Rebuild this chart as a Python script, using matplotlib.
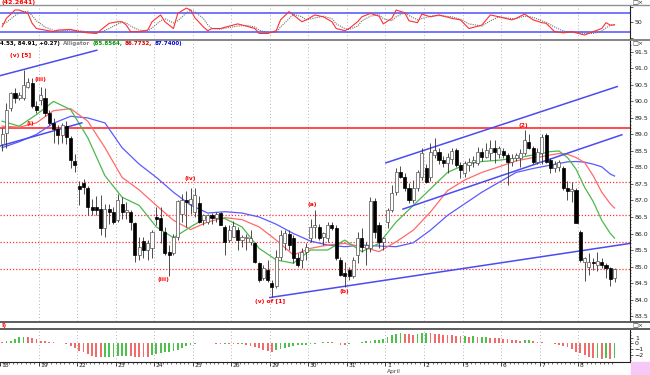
import matplotlib
matplotlib.use("Agg")
import matplotlib.pyplot as plt
import numpy as np
from matplotlib.lines import Line2D
from matplotlib.patches import Rectangle
from matplotlib.transforms import ScaledTranslation

plt.rcParams['font.family'] = ['Liberation Sans Narrow', 'DejaVu Sans']

# ---- price bars (9 bars per trading day) ----
opens = [88.70, 89.05, 89.80, 90.25, 90.10, 90.10, 90.45, 90.55, 89.85,
         90.05, 90.10, 89.65, 89.35, 89.15, 88.98, 89.27, 88.90, 88.20,
         87.45, 87.52, 87.37, 86.80, 86.81, 86.74, 86.16, 86.74, 86.66,
         86.40, 86.90, 86.66, 86.66, 86.31, 85.35, 85.77, 85.50, 85.55,
         86.50, 86.46, 86.05, 85.45, 85.40, 85.90, 86.60, 87.00, 86.90,
         86.66, 86.91, 86.40, 86.36, 86.56, 86.46, 86.61, 86.20, 85.80,
         85.88, 86.11, 85.80, 85.85, 85.75, 85.70, 85.10, 84.64, 84.89,
         84.49, 84.40, 85.30, 85.70, 86.00, 85.85, 85.25, 85.20, 85.45,
         85.85, 86.20, 86.20, 85.90, 85.85, 86.26, 86.16, 85.20, 84.80,
         84.90, 84.70, 85.35, 85.87, 85.55, 85.55, 86.97, 86.26, 85.75,
         86.36, 86.71, 87.27, 87.87, 87.72, 87.37, 87.02, 87.37, 87.70,
         87.97, 87.72, 88.38, 88.48, 88.23, 88.13, 88.25, 88.53, 88.07,
         87.82, 88.08, 88.18, 88.13, 88.48, 88.33, 88.43, 88.60, 88.40,
         88.50, 88.38, 88.18, 88.30, 88.30, 88.43, 88.78, 88.58, 88.18,
         88.43, 88.98, 88.23, 87.97, 88.00, 87.97, 87.37, 87.30, 87.32,
         86.05, 85.13, 85.00, 85.15, 85.05, 85.15, 85.05, 84.95, 84.64]
highs = [89.20, 89.95, 90.30, 90.40, 90.30, 90.96, 90.70, 90.70, 90.00,
         90.45, 90.40, 89.75, 89.50, 89.30, 89.35, 89.40, 88.95, 88.40,
         87.60, 87.65, 87.45, 87.05, 87.15, 87.17, 86.90, 86.90, 86.80,
         87.20, 87.10, 86.95, 86.70, 86.36, 85.90, 85.90, 85.80, 86.10,
         86.80, 86.80, 86.20, 85.65, 86.00, 87.02, 87.20, 87.30, 87.37,
         87.37, 87.15, 86.60, 86.60, 86.63, 86.66, 86.66, 86.26, 86.26,
         86.38, 86.21, 85.95, 86.00, 86.10, 85.75, 85.15, 85.04, 85.20,
         84.59, 85.50, 86.10, 86.10, 86.10, 85.95, 85.40, 85.55, 85.70,
         86.45, 86.71, 86.30, 86.05, 86.36, 86.36, 86.26, 85.30, 85.15,
         85.00, 85.30, 86.06, 86.16, 85.75, 87.12, 87.07, 86.36, 85.90,
         86.76, 87.47, 87.98, 88.03, 87.83, 87.52, 87.62, 87.93, 88.58,
         88.10, 88.73, 88.88, 88.60, 88.35, 88.43, 88.60, 88.58, 88.17,
         88.20, 88.30, 88.35, 88.63, 88.60, 88.75, 88.84, 88.84, 88.65,
         88.60, 88.45, 88.40, 88.45, 88.55, 89.14, 89.00, 88.65, 88.60,
         89.00, 89.03, 88.28, 88.20, 88.23, 88.05, 87.60, 87.55, 87.37,
         86.10, 85.30, 85.40, 85.25, 85.45, 85.25, 85.10, 85.00, 84.95]
lows = [88.50, 88.60, 89.70, 89.95, 90.05, 90.05, 90.40, 89.80, 89.65,
        89.90, 89.55, 89.30, 88.75, 88.70, 88.75, 88.70, 87.98, 87.87,
        86.86, 87.20, 86.56, 86.56, 86.56, 85.96, 85.90, 86.30, 86.30,
        86.35, 86.45, 86.45, 86.10, 85.15, 85.20, 85.25, 85.20, 85.25,
        86.25, 85.70, 85.35, 84.72, 85.35, 85.80, 86.36, 86.20, 86.60,
        86.50, 86.31, 86.25, 86.30, 86.30, 86.35, 86.26, 85.35, 85.75,
        85.88, 85.50, 85.60, 85.50, 85.65, 85.10, 84.54, 84.59, 84.54,
        84.08, 84.35, 85.20, 85.50, 85.50, 85.10, 85.00, 84.95, 85.20,
        85.75, 85.85, 85.80, 85.65, 85.75, 86.10, 85.20, 84.70, 84.39,
        84.60, 84.65, 85.10, 85.45, 85.05, 85.45, 85.85, 85.55, 85.50,
        86.16, 86.66, 87.17, 87.68, 87.30, 86.91, 86.91, 87.30, 87.62,
        87.52, 87.60, 88.30, 88.10, 88.00, 87.82, 88.10, 88.02, 87.67,
        87.72, 87.90, 88.00, 88.08, 88.20, 88.28, 88.24, 88.13, 88.30,
        88.30, 87.47, 88.05, 88.20, 88.00, 88.38, 88.55, 88.10, 88.10,
        88.10, 88.13, 87.82, 87.85, 87.90, 87.32, 87.00, 86.96, 86.31,
        85.15, 84.55, 84.75, 84.90, 84.85, 84.95, 84.65, 84.42, 84.53]
closes = [89.00, 89.75, 90.25, 90.10, 90.20, 90.50, 90.60, 89.85, 89.75,
          90.20, 89.65, 89.35, 89.15, 88.98, 89.30, 88.93, 88.23, 88.08,
          87.35, 87.42, 86.81, 86.70, 86.71, 86.16, 86.74, 86.66, 86.36,
          87.00, 86.66, 86.70, 86.36, 85.35, 85.60, 85.50, 85.70, 86.06,
          86.43, 86.10, 85.40, 85.35, 85.90, 86.97, 87.00, 86.95, 87.05,
          87.17, 86.36, 86.55, 86.56, 86.46, 86.58, 86.26, 85.75, 86.11,
          86.23, 85.80, 85.90, 85.90, 85.85, 85.15, 84.60, 84.94, 84.59,
          84.37, 85.30, 85.95, 86.00, 85.65, 85.25, 85.05, 85.45, 85.60,
          86.20, 86.25, 85.85, 86.00, 86.26, 86.16, 85.25, 84.74, 84.70,
          84.70, 85.20, 85.85, 85.60, 85.65, 86.97, 86.06, 85.75, 85.85,
          86.71, 87.22, 87.87, 87.72, 87.37, 87.01, 87.37, 87.87, 88.43,
          87.57, 88.48, 88.53, 88.23, 88.13, 88.33, 88.50, 88.07, 87.92,
          88.12, 88.18, 88.24, 88.48, 88.33, 88.53, 88.60, 88.48, 88.60,
          88.38, 88.18, 88.30, 88.38, 88.43, 88.83, 88.58, 88.18, 88.48,
          88.93, 88.18, 87.97, 88.10, 88.18, 87.37, 87.30, 87.35, 86.31,
          85.20, 85.25, 85.15, 85.10, 85.18, 85.05, 84.95, 84.62, 84.91]

day_labels = ["18", "19", "22", "23", "24", "25", "26", "29", "30", "31",
              "1", "2", "5", "6", "7", "8"]
bars_per_day = 9

# ---- Alligator lines, read at sample bars ----
ma_bars = [0, 4, 8, 12, 16, 20, 24, 28, 32, 36, 40, 44, 48, 52, 56, 60, 64,
           68, 72, 76, 80, 84, 88, 92, 96, 100, 104, 108, 112, 116, 120, 124,
           126, 128, 130, 132, 134, 136, 138, 140, 142, 143]
lips = [89.40, 89.25, 89.60, 90.00, 89.75, 88.90, 87.75, 87.10, 86.85, 86.20,
        85.87, 86.20, 86.50, 86.45, 86.20, 85.55, 85.20, 85.10, 85.50, 85.50,
        85.80, 85.45, 85.70, 86.35, 86.85, 87.35, 87.85, 88.08, 88.18, 88.22,
        88.28, 88.38, 88.42, 88.48, 88.50, 88.30, 87.95, 87.40, 86.97, 86.40,
        86.00, 85.86]
teeth = [89.25, 89.22, 89.35, 89.72, 89.78, 89.40, 88.60, 87.70, 87.32, 86.85,
         86.40, 86.12, 86.35, 86.48, 86.42, 86.20, 85.80, 85.35, 85.55, 85.65,
         85.70, 85.60, 85.45, 85.75, 86.10, 86.65, 87.30, 87.62, 87.85, 88.02,
         88.20, 88.30, 88.33, 88.38, 88.42, 88.40, 88.30, 88.15, 87.75, 87.25,
         86.90, 86.77]
jaw = [88.60, 88.78, 89.00, 89.34, 89.55, 89.50, 89.35, 88.60, 88.10, 87.70,
       87.25, 86.86, 86.62, 86.66, 86.62, 86.50, 86.28, 86.00, 85.77, 85.65,
       85.60, 85.65, 85.62, 85.60, 85.72, 86.10, 86.55, 86.90, 87.25, 87.55,
       87.85, 87.97, 88.02, 88.07, 88.12, 88.17, 88.18, 88.16, 88.10, 88.02,
       87.80, 87.74]

# ---- stochastic (%K solid, %D dotted) ----
st_bars = [0, 1, 3, 4, 6, 7, 8, 10, 12, 13, 16, 18, 20, 22, 23, 25, 27, 28,
           29, 30, 32, 34, 35, 37, 38, 40, 41, 43, 44, 45, 47, 48, 49, 51, 52,
           55, 57, 59, 60, 62, 64, 65, 67, 68, 70, 71, 73, 75, 77, 78, 80, 81,
           83, 84, 86, 88, 89, 91, 92, 94, 95, 97, 98, 100, 102, 105, 107,
           109, 112, 114, 116, 119, 120, 122, 124, 126, 127, 129, 131, 133,
           136, 138, 140, 141, 142, 143]
st_k = [36, 63, 90, 90, 79, 47, 30, 25, 20, 25, 27, 20, 16, 14, 25, 47, 52,
        52, 41, 20, 20, 25, 52, 74, 52, 30, 79, 96, 90, 65, 35, 23, 30, 30,
        34, 45, 38, 30, 14, 14, 23, 58, 85, 74, 52, 58, 74, 68, 52, 30, 23,
        30, 52, 68, 79, 70, 45, 63, 90, 81, 55, 49, 77, 68, 74, 63, 58, 30,
        41, 74, 68, 58, 63, 77, 58, 49, 47, 20, 16, 20, 9, 20, 30, 49, 41, 42]
st_d = [45, 50, 72, 82, 86, 72, 55, 35, 24, 22, 25, 23, 19, 16, 18, 30, 45,
        50, 48, 38, 25, 22, 32, 55, 62, 48, 55, 80, 90, 84, 62, 42, 30, 28,
        31, 38, 40, 35, 25, 16, 18, 35, 62, 76, 68, 58, 64, 70, 62, 45, 30,
        27, 38, 55, 70, 75, 62, 55, 68, 82, 72, 58, 62, 70, 72, 68, 60, 45,
        38, 55, 68, 62, 62, 70, 66, 55, 50, 35, 22, 18, 14, 14, 22, 32, 40, 42]

# ---- oscillator histogram, one value per bar ----
ao = [0.30, 0.45, 0.50, 0.75, 1.10, 1.25, 1.10, 0.95, 0.75, 0.50, 0.40, 0.30,
      0.25, 0.10, 0.05, -0.05, -0.40, -0.90, -1.30, -1.60, -1.95, -2.25, -2.45,
      -2.52, -2.50, -2.45, -2.40, -2.32, -2.28, -2.25, -2.30, -2.38, -2.42,
      -2.46, -2.52, -2.10, -1.90, -1.75, -1.60, -1.50, -1.40, -1.20, -0.90,
      -0.45, -0.20, -0.05, 0.05, 0.03, 0.02, 0.00, -0.02, -0.03, -0.02, -0.04,
      -0.08, -0.15, -0.10, -0.30, -0.40, -0.55, -0.85, -1.20, -1.30, -1.50,
      -1.20, -1.05, -0.85, -0.55, -0.45, -0.30, -0.28, -0.20, -0.10, -0.02,
      0.15, 0.25, 0.30, 0.20, 0.00, -0.20, -0.30, -0.15, 0.05, 0.15, 0.25,
      0.40, 0.50, 0.60, 0.70, 0.90, 1.20, 1.50, 1.75, 1.85, 1.80, 1.65, 1.60,
      1.75, 1.85, 1.90, 1.85, 1.75, 1.65, 1.60, 1.55, 1.50, 1.40, 1.35, 1.38,
      1.25, 1.30, 1.20, 1.22, 1.25, 1.05, 1.00, 0.95, 0.80, 0.75, 0.65, 0.60,
      0.50, 0.55, 0.60, 0.40, 0.30, 0.20, 0.10, 0.00, -0.10, -0.30, -0.45,
      -0.70, -1.05, -1.50, -1.80, -2.10, -2.40, -2.70, -2.60, -2.85, -2.70,
      -2.75, -2.60]

# ---- drawn objects ----
trend_lines = [((-0.5, 90.78), (22.1, 91.55)),
               ((-0.5, 88.65), (18.6, 89.35)),
               ((62.5, 84.06), (146.6, 85.70)),
               ((89.6, 88.14), (143.6, 90.45)),
               ((93.6, 86.74), (144.7, 88.99))]
resistance = 89.19
levels = [87.55, 86.55, 85.73, 84.92]
wave_labels = [("(v) [5]", 4.2, 91.38), ("(iii)", 9.0, 90.65), ("(i)", 6.5, 89.34),
               ("(iv)", 43.9, 87.68), ("(iii)", 37.6, 84.60),
               ("(v) of [1]", 62.5, 83.93), ("(a)", 72.4, 86.89),
               ("(b)", 80.0, 84.24), ("(2)", 121.7, 89.27)]
header = [("4.53, 84.91, +0.27)", '#000000'), ("Alligator", '#808080'),
          ("(85.8564,", '#009900'), ("86.7732,", '#dd0000'),
          ("87.7400)", '#0000dd')]

# ---------------------------------------------------------------
W, H = 650, 375
fig = plt.figure(figsize=(W / 100, H / 100), dpi=100)
fig.patch.set_facecolor('white')


def frac(x0, y0, x1, y1):
    return [x0 / W, 1 - y1 / H, (x1 - x0) / W, (y1 - y0) / H]


ax_st = fig.add_axes(frac(0, 5, 630, 39))
ax = fig.add_axes(frac(0, 41, 630, 321))
ax_ao = fig.add_axes(frac(0, 330, 630, 362))

n = len(closes)
x = np.arange(n)
xlim = (-0.5, 146.6)
day_starts = [d * bars_per_day - 0.5 for d in range(len(day_labels))]
grid_kw = dict(colors='#9a9a9a', linestyles=(0, (1, 3)), linewidth=0.6, zorder=0)

for a in (ax_st, ax, ax_ao):
    a.set_xlim(*xlim)
    for s in ('left', 'top', 'bottom'):
        a.spines[s].set_visible(False)
    a.spines['right'].set_color('#202020')
    a.spines['right'].set_linewidth(0.8)
    a.yaxis.tick_right()
    a.tick_params(axis='y', labelsize=4.5, length=2, width=0.5, pad=1.5,
                  colors='#202020')
    a.tick_params(axis='y', which='minor', length=1, width=0.4)
    a.tick_params(axis='x', which='both', bottom=False, labelbottom=False)

# ---- stochastic panel ----
ax_st.set_ylim(-3.9, 106.2)
ax_st.vlines(day_starts[1:], -3.9, 106.2, **grid_kw)
ax_st.axhline(80, color='#5050ff', lw=1.1)
ax_st.axhline(20, color='#5050ff', lw=1.1)
ax_st.plot(st_bars, st_d, color='#707070', lw=0.8, ls=(0, (1, 1)))
ax_st.plot(st_bars, st_k, color='#ff3030', lw=0.8)
ax_st.set_yticks([0, 50, 100])
ax_st.set_yticklabels(['', '50', ''])

# ---- main price panel ----
ax.set_ylim(83.35, 91.83)
ax.vlines(day_starts[1:], 83.35, 91.83, **grid_kw)
ax.axhline(resistance, color='#ff1a1a', lw=1.1, zorder=1)
for lv in levels:
    ax.axhline(lv, color='#ff3030', lw=0.9, ls=(0, (1, 1.5)), zorder=1)

ax.plot(ma_bars, jaw, color='#5a5aff', lw=0.9, zorder=2)
ax.plot(ma_bars, teeth, color='#ff6a6a', lw=0.9, zorder=2)
ax.plot(ma_bars, lips, color='#4cb84c', lw=0.9, zorder=2)

for (x0, y0), (x1, y1) in trend_lines:
    ax.plot([x0, x1], [y0, y1], color='#4b4bf0', lw=1.1, zorder=2)

o = np.array(opens)
c = np.array(closes)
up = c >= o
ax.vlines(x, lows, highs, color='#303030', lw=0.6, zorder=3)
body = np.where(np.abs(c - o) < 0.03, 0.03, c - o)
ax.bar(x[up], body[up], bottom=o[up], width=0.72, color='white',
       edgecolor='#505050', linewidth=0.5, zorder=4)
ax.bar(x[~up], body[~up], bottom=o[~up], width=0.72, color='black',
       edgecolor='black', linewidth=0.5, zorder=4)

for txt, bx, by in wave_labels:
    ax.text(bx, by, txt, color='#ff0000', fontsize=4.3, fontweight='bold',
            ha='center', va='center', zorder=5)

ax.set_yticks(np.arange(83.5, 91.51, 0.5))
ax.set_yticklabels([f"{v:.1f}" for v in np.arange(83.5, 91.51, 0.5)])
ax.set_yticks(np.arange(83.4, 91.8, 0.1), minor=True)

# ---- oscillator panel ----
ax_ao.set_ylim(-3.36, 2.45)
ax_ao.vlines(day_starts[1:], -3.36, 2.45, **grid_kw)
ao_arr = np.array(ao)
rising = np.concatenate([[False], ao_arr[1:] > ao_arr[:-1]])
ax_ao.bar(x, ao_arr, width=0.42,
          color=np.where(rising, '#4cc24c', '#f26b6b'), zorder=2)
ax_ao.set_yticks([1, 0, -1, -2])
ax_ao.set_yticks(np.arange(-3, 2.1, 0.5), minor=True)

# x axis with day labels beside the day ticks
ax_ao.spines['bottom'].set_visible(True)
ax_ao.spines['bottom'].set_color('#202020')
ax_ao.spines['bottom'].set_linewidth(0.8)
ax_ao.set_xticks(day_starts)
ax_ao.set_xticklabels(day_labels, ha='left')
ax_ao.set_xticks(x - 0.5, minor=True)
ax_ao.tick_params(axis='x', which='major', bottom=True, labelbottom=True,
                  length=3, width=0.6, labelsize=4.3, pad=-2.2, colors='#202020')
ax_ao.tick_params(axis='x', which='minor', bottom=True, length=1.5, width=0.4)
shift = ScaledTranslation(1.5 / 100, 0, fig.dpi_scale_trans)
for lbl in ax_ao.get_xticklabels():
    lbl.set_transform(lbl.get_transform() + shift)
fig.text(387 / W, 1 - 371.5 / H, "April", fontsize=4.3, ha='left',
         va='center', color='#404040')

# ---- panel separators, headers, icons ----
for yy, col, lw in [(4.5, '#909090', 1.0), (39.5, '#707070', 1.2),
                    (322, '#505050', 1.3), (329, '#505050', 1.3)]:
    fig.add_artist(Line2D([0, 1], [1 - yy / H, 1 - yy / H], color=col, lw=lw,
                          transform=fig.transFigure))
fig.patches.append(Rectangle((631 / W, 0), 19 / W, 13 / H, color='#f5c8f5',
                             transform=fig.transFigure, zorder=0))

fig.text(1 / W, 1 - 2.5 / H, "(42.2641)", color='#ff0000', fontsize=4.5,
         fontweight='bold', va='center')

# header of the price panel: pieces placed one after another
renderer = fig.canvas.get_renderer()
px = 0.5
for txt, col in header:
    t = fig.text(px / W, 1 - 43.5 / H, txt, color=col, fontsize=4.0,
                 fontweight='bold', va='center')
    px += t.get_window_extent(renderer).width + 2.5

fig.text(1 / W, 1 - 325.5 / H, "I)", color='#ff0000', fontsize=4.5,
         fontweight='bold', va='center')
for yy in (2.5, 43.5, 325.5):
    fig.text(638 / W, 1 - yy / H, "\u25a1\u00d7", color='#303030', fontsize=4.5,
             ha='center', va='center', family=['DejaVu Sans'])

fig.savefig("out.png", dpi=100)
